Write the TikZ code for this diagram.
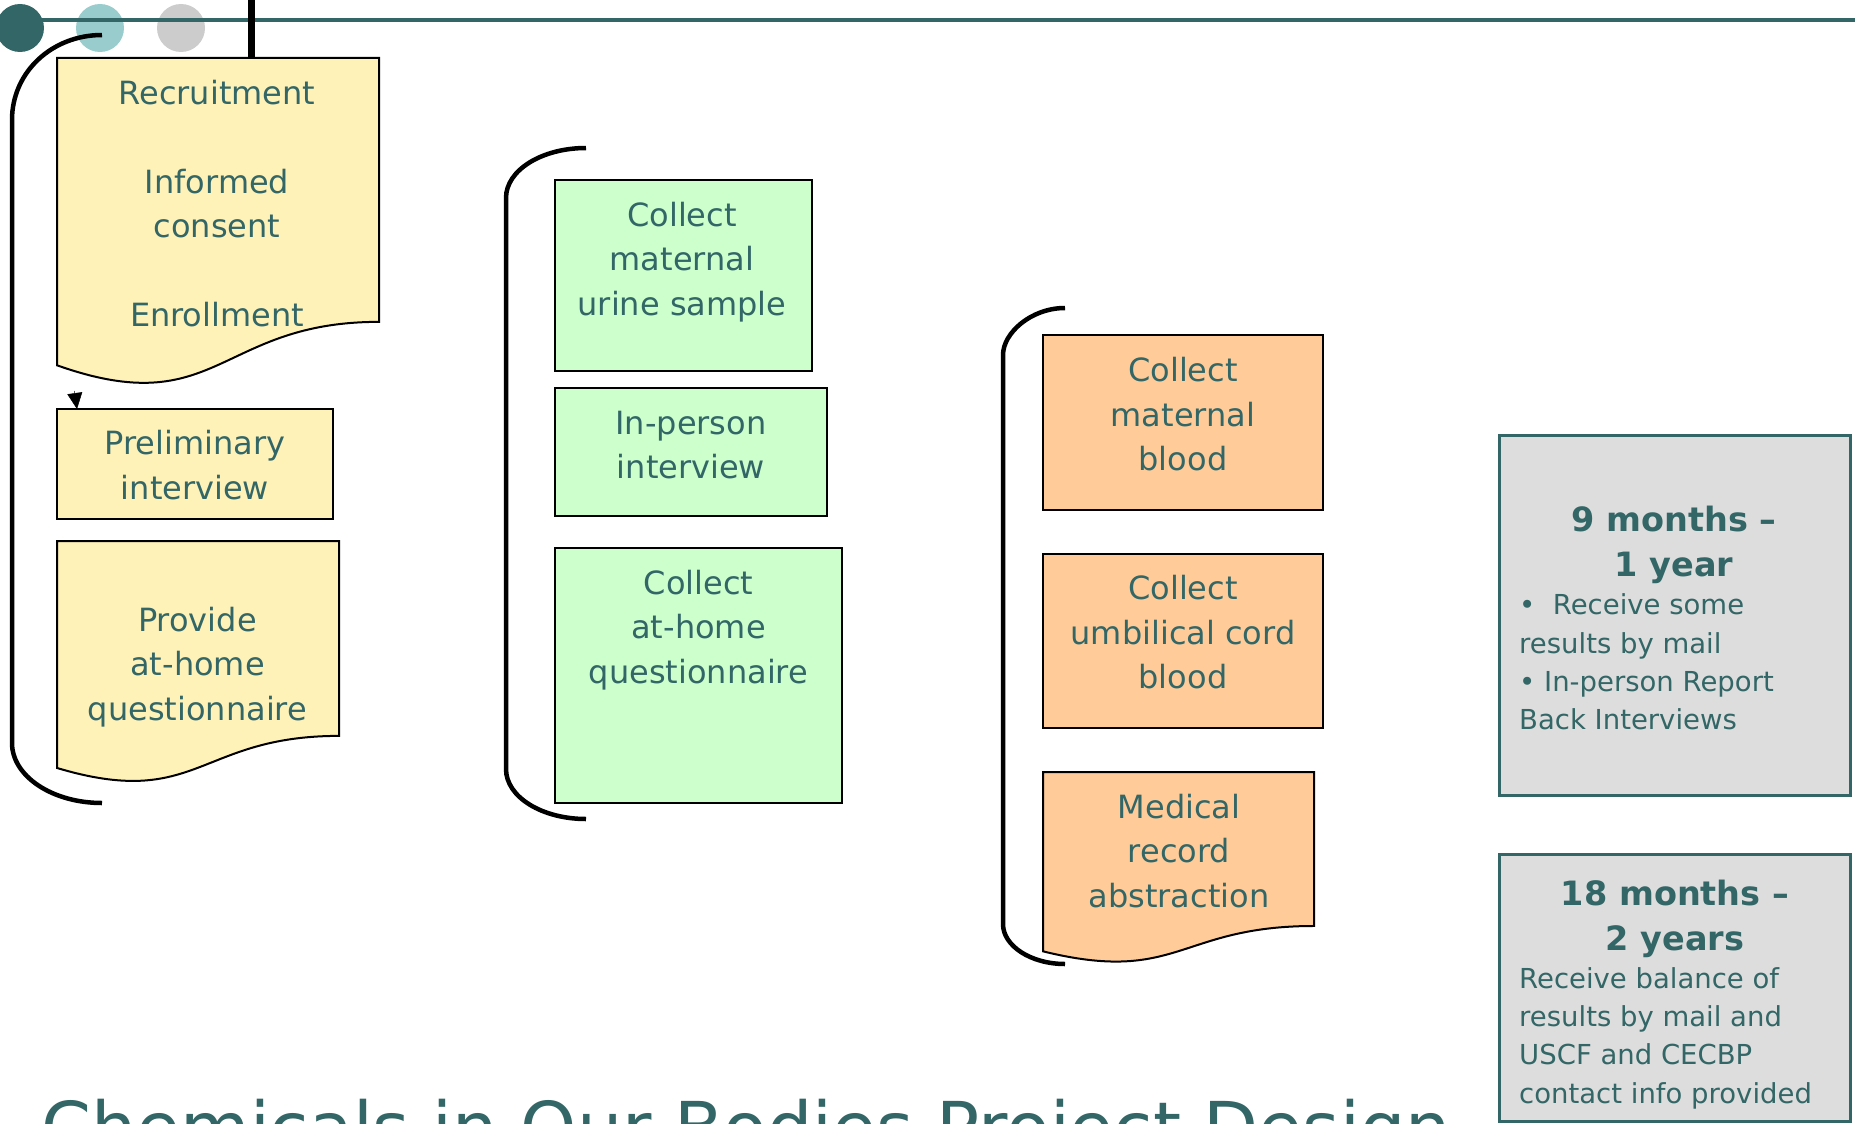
\documentclass[tikz,border=0pt]{standalone}
\usepackage{fontspec}
\setmainfont{DejaVu Sans}
\usetikzlibrary{calc,arrows.meta}
\definecolor{tealc}{HTML}{336666}
\definecolor{lteal}{HTML}{99CCCC}
\definecolor{lgray}{HTML}{CCCCCC}
\definecolor{yel}{HTML}{FFF2B9}
\definecolor{grn}{HTML}{CCFFCC}
\definecolor{org}{HTML}{FFCC99}
\definecolor{gbg}{HTML}{DDDDDD}
% name, x0, y0, w, h, fill
\newcommand\docbox[6]{%
  \draw[boxline,fill=#6] (#2,#3) -- ({#2+#4},#3) -- ({#2+#4},{#3+0.802*#5})
    .. controls ({#2+#4/2},{#3+0.802*#5}) and ({#2+#4/2},{#3+1.1075*#5}) .. (#2,{#3+0.934*#5}) -- cycle;
  \coordinate (#1) at ({#2+#4/2},#3);
}
\begin{document}
\begin{tikzpicture}[x=1pt,y=-1pt,
  boxline/.style={draw=black,line width=2pt},
  rbox/.style={boxline,anchor=north west,inner sep=0pt,outer sep=0pt},
  gray box/.style={draw=tealc,line width=3pt,fill=gbg,anchor=north west,inner sep=0pt,outer sep=0pt},
  txt/.style={text=tealc,align=center,font=\fontsize{32}{44.5}\selectfont,inner sep=0pt},
  gtitle/.style={text=tealc,align=center,font=\bfseries\fontsize{33.5}{45}\selectfont,inner sep=0pt},
  gbody/.style={text=tealc,align=left,font=\fontsize{27.5}{38.3}\selectfont,inner sep=0pt,anchor=west},
  brk/.style={draw=black,line width=4.5pt},
  dot/.style={circle,inner sep=0pt,minimum size=48pt}]
\useasboundingbox (0,0) rectangle (1855,1124);
\clip (0,0) rectangle (1855,1124);
\fill[white] (0,0) rectangle (1855,1124);

% header
\node[dot,fill=lteal] (c2) at (100,28) {};
\node[dot,fill=lgray] (c3) at (181,28) {};
\coordinate (hl) at (20,20);
\coordinate (hr) at (1855,20);
\draw[tealc,line width=4pt] (hl) -- (hr);
\node[dot,fill=tealc] (c1) at (20,28) {};

% left column
\docbox{b1}{57}{58}{322}{329}{yel}
\coordinate (bar) at (251,0);
\draw[line width=7pt] (bar) -- (b1 -| bar);
\node[txt] (b1t) at (217,203.5) {Recruitment\\[44.5pt]Informed\\consent\\[44.5pt]Enrollment};

\node[rbox,fill=yel,minimum width=276pt,minimum height=110pt] (b2) at (57,409) {};
\node[txt] (b2t) at (195,465) {Preliminary\\interview};

\docbox{b3}{57}{541}{282}{243}{yel}
\node[txt] (b3t) at (197.5,667) {Provide\\at-home\\questionnaire};

\coordinate (a0) at (74.5,391);
\draw[line width=0.5pt,-{Triangle[length=16pt,width=15pt]}] (a0) -- ($(b2.north west)+(20,0)$);

\draw[brk] (102,35) .. controls (52,35) and (12,72) .. (12,120) -- (12,743)
  .. controls (12,776) and (52,803) .. (102,803);

% green column
\node[rbox,fill=grn,minimum width=257pt,minimum height=191pt] (g1) at (555,180) {};
\node[txt] (g1t) at (682,262) {Collect\\maternal\\urine sample};
\node[rbox,fill=grn,minimum width=272pt,minimum height=128pt] (g2) at (555,388) {};
\node[txt] (g2t) at (691,445) {In-person\\interview};
\node[rbox,fill=grn,minimum width=287pt,minimum height=255pt] (g3) at (555,548) {};
\node[txt] (g3t) at (698.5,630) {Collect\\at-home\\questionnaire};

\draw[brk] (586,148) .. controls (542,148) and (506,170) .. (506,198) -- (506,769)
  .. controls (506,797) and (542,819) .. (586,819);

% orange column
\node[rbox,fill=org,minimum width=280pt,minimum height=175pt] (o1) at (1043,335) {};
\node[txt] (o1t) at (1183,414.5) {Collect\\maternal\\blood};
\node[rbox,fill=org,minimum width=280pt,minimum height=174pt] (o2) at (1043,554) {};
\node[txt] (o2t) at (1183,632.5) {Collect\\umbilical cord\\blood};
\docbox{o3}{1043}{772}{271}{192}{org}
\node[txt] (o3t) at (1179,851) {Medical\\record\\abstraction};

\draw[brk] (1065,308) .. controls (1031,308) and (1003,333) .. (1003,355) -- (1003,924)
  .. controls (1003,946) and (1031,964) .. (1065,964);

% gray boxes
\node[gray box,minimum width=351pt,minimum height=360pt] (r1) at (1499,435) {};
\node[gtitle] (r1t) at (1674,545) {9 months –\\1 year};
\node[gbody] (r1b) at (1519,662) {•\ \ Receive some\\results by mail\\• In-person Report\\Back Interviews};

\node[gray box,minimum width=351pt,minimum height=267pt] (r2) at (1499,854) {};
\node[gtitle] (r2t) at (1675,918.5) {18 months –\\2 years};
\node[gbody] (r2b) at (1519,1038) {Receive balance of\\results by mail and\\USCF and CECBP\\contact info provided};

% title
\node[anchor=base west,text=tealc,font=\fontsize{71.5}{80}\selectfont,inner sep=0pt] (title) at (41,1153) {Chemicals in Our Bodies Project Design};
\end{tikzpicture}
\end{document}
